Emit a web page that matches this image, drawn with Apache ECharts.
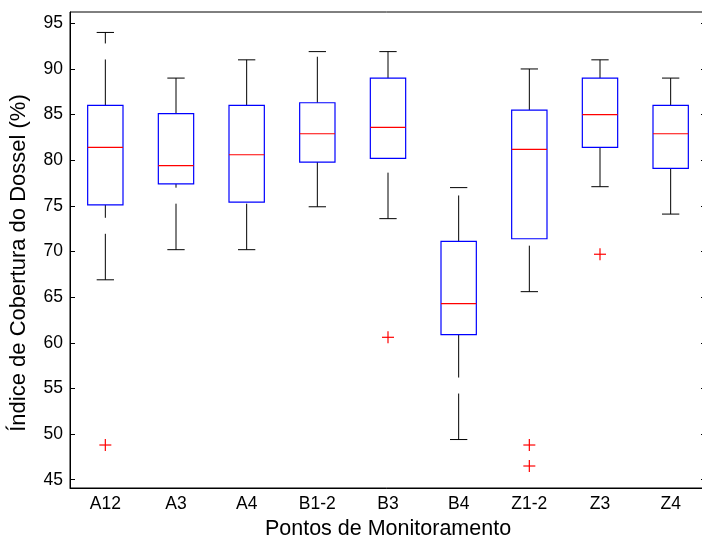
<!DOCTYPE html>
<html>
<head>
<meta charset="utf-8">
<script src="https://cdn.jsdelivr.net/npm/echarts@6/dist/echarts.min.js"></script>
<style>html,body{margin:0;padding:0;background:#fff}#c{width:702px;height:536px}</style>
</head>
<body>
<div id="c"></div>
<script>
const categories = ['A12','A3','A4','B1-2','B3','B4','Z1-2','Z3','Z4'];
const lowerWhisker = [66.9, 70.2, 70.2, 74.9, 73.6, 49.4, 65.6, 77.1, 74.1];
const q1Values     = [75.1, 77.4, 75.4, 79.8, 80.2, 60.9, 71.4, 81.4, 79.1];
const medians      = [81.4, 79.4, 80.6, 82.9, 83.6, 64.3, 81.2, 85.0, 82.9];
const q3Values     = [86.0, 85.1, 86.0, 86.3, 89.0, 71.1, 85.5, 89.0, 86.0];
const upperWhisker = [94.0, 89.0, 91.0, 91.9, 91.9, 77.0, 90.0, 91.0, 89.0];
const outlierCats   = ['A12','B3','Z1-2','Z1-2','Z3'];
const outlierValues = [48.8, 60.6, 48.8, 46.5, 69.7];
const yTicks = [45,50,55,60,65,70,75,80,85,90,95];

const FONT = '"Liberation Sans", Arial, Helvetica, sans-serif';
const boxData = categories.map((c,i)=>[i, lowerWhisker[i], q1Values[i], medians[i], q3Values[i], upperWhisker[i]]);
const outData = outlierCats.map((c,i)=>[categories.indexOf(c), outlierValues[i]]);

function renderBox(params, api){
  const i = api.value(0);
  const band = api.size([1,0])[0];
  const bw = band*0.5, cw = band*0.245;
  const pLo = api.coord([i, api.value(1)]);
  const pQ1 = api.coord([i, api.value(2)]);
  const pMd = api.coord([i, api.value(3)]);
  const pQ3 = api.coord([i, api.value(4)]);
  const pHi = api.coord([i, api.value(5)]);
  const x = pQ1[0];
  const dash = {stroke:'#000', lineWidth:1, lineDash:[46,16], fill:null};
  const solid = {stroke:'#000', lineWidth:1, fill:null};
  return {type:'group', children:[
    {type:'line', shape:{x1:x,y1:pQ3[1],x2:x,y2:pHi[1]}, style:dash},
    {type:'line', shape:{x1:x,y1:pLo[1],x2:x,y2:pQ1[1]}, style:dash},
    {type:'line', shape:{x1:x-cw/2,y1:pHi[1],x2:x+cw/2,y2:pHi[1]}, style:solid},
    {type:'line', shape:{x1:x-cw/2,y1:pLo[1],x2:x+cw/2,y2:pLo[1]}, style:solid},
    {type:'rect', shape:{x:x-bw/2,y:pQ3[1],width:bw,height:pQ1[1]-pQ3[1]}, style:{stroke:'#0000ff',lineWidth:1.2,fill:null}},
    {type:'line', shape:{x1:x-bw/2,y1:pMd[1],x2:x+bw/2,y2:pMd[1]}, style:{stroke:'#ff0000',lineWidth:1.2}}
  ]};
}
function renderOut(params, api){
  const p = api.coord([api.value(0), api.value(1)]);
  const h = 6;
  const st = {stroke:'#ff0000', lineWidth:1.2};
  return {type:'group', children:[
    {type:'line', shape:{x1:p[0]-h,y1:p[1],x2:p[0]+h,y2:p[1]}, style:st},
    {type:'line', shape:{x1:p[0],y1:p[1]-h,x2:p[0],y2:p[1]+h}, style:st}
  ]};
}

const chart = echarts.init(document.getElementById('c'), null, {renderer:'canvas'});
const yCommon = {
  type:'value', min:44.09, max:96.24,
  splitLine:{show:false},
  axisLine:{show:true, lineStyle:{color:'#000', width:1}},
  axisTick:{show:true, inside:true, length:5, customValues:yTicks, lineStyle:{color:'#000'}}
};
chart.setOption({
  animation:false,
  backgroundColor:'#fff',
  grid:{left:70, top:12, width:636, height:476, outerBoundsMode:'none', containLabel:false,
        show:true, borderColor:'#000', borderWidth:1, backgroundColor:'#fff'},
  xAxis:{
    type:'category', data:categories, boundaryGap:true,
    axisLine:{show:true, lineStyle:{color:'#000'}},
    axisTick:{show:false},
    axisLabel:{color:'#000', fontSize:17.5, fontFamily:FONT, margin:7},
    name:'Pontos de Monitoramento', nameLocation:'middle', nameGap:25,
    nameTextStyle:{color:'#000', fontSize:21.5, fontFamily:FONT}
  },
  yAxis:[
    Object.assign({}, yCommon, {
      position:'left',
      axisLabel:{color:'#000', fontSize:17.5, fontFamily:FONT, margin:7, customValues:yTicks}
    }),
    Object.assign({}, yCommon, {position:'right', axisLabel:{show:false}})
  ],
  graphic:[{
    type:'text', x:19, y:263, rotation:Math.PI/2,
    style:{text:'Índice de Cobertura do Dossel (%)', fill:'#000', font:'22px ' + FONT,
           align:'center', verticalAlign:'middle'}
  }],
  series:[
    {type:'custom', renderItem:renderBox, data:boxData, encode:{x:0, y:[1,2,3,4,5]}, z:3},
    {type:'custom', renderItem:renderOut, data:outData, encode:{x:0, y:1}, z:4}
  ]
});
</script>
</body>
</html>
